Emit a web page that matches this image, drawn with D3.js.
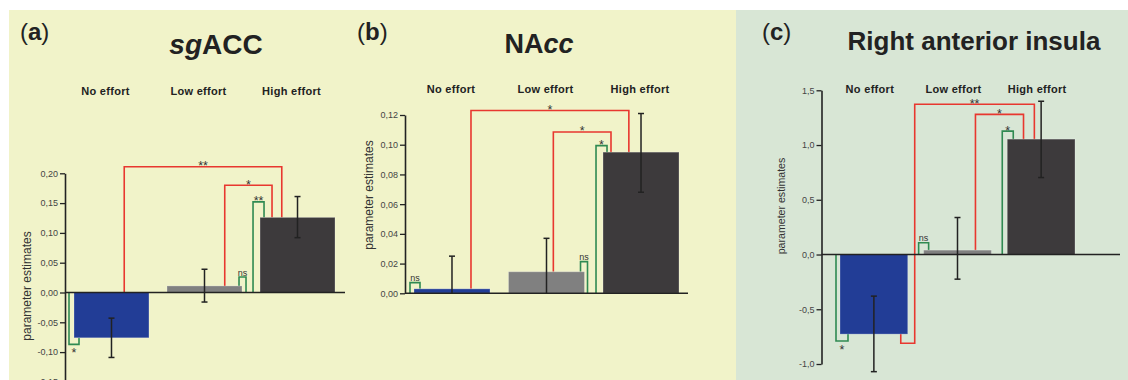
<!DOCTYPE html>
<html>
<head>
<meta charset="utf-8">
<script src="https://cdn.jsdelivr.net/npm/d3@7"></script>
<style>
  body { margin: 0; background: #fff; }
  svg { display: block; font-family: "Liberation Sans", Arial, sans-serif; }
</style>
</head>
<body>
<svg id="chart" width="1128" height="380"></svg>
<script>
const categories = ['No effort', 'Low effort', 'High effort'];
const barColors = ['#223d96', '#808080', '#3d3a3c'];

// sgACC
const sgaccMean = [-0.076, 0.011, 0.126];
const sgaccHi = [-0.043, 0.039, 0.161];
const sgaccLo = [-0.109, -0.016, 0.092];
const sgaccTicks = [-0.15, -0.10, -0.05, 0, 0.05, 0.10, 0.15, 0.20];
const sgaccVsZero = [{level: -0.087, label: '*'}, {level: 0.026, label: 'ns'}, {level: 0.152, label: '**'}];
const sgaccPairs = [{a: 0, b: 2, level: 0.211, label: '**'}, {a: 1, b: 2, level: 0.18, label: '*'}];

// NAcc (lower error bars cut at the zero line)
const naccMean = [0.003, 0.0145, 0.095];
const naccHi = [0.025, 0.037, 0.121];
const naccLo = [null, null, 0.068];
const naccTicks = [0, 0.02, 0.04, 0.06, 0.08, 0.10, 0.12];
const naccVsZero = [{level: 0.0072, label: 'ns'}, {level: 0.0213, label: 'ns'}, {level: 0.0994, label: '*'}];
const naccPairs = [{a: 0, b: 2, level: 0.123, label: '*'}, {a: 1, b: 2, level: 0.1086, label: '*'}];

// Right anterior insula
const insulaMean = [-0.727, 0.04, 1.054];
const insulaHi = [-0.38, 0.338, 1.40];
const insulaLo = [-1.07, -0.225, 0.703];
const insulaTicks = [-1.0, -0.5, 0, 0.5, 1.0, 1.5];
const insulaVsZero = [{level: -0.79, label: '*'}, {level: 0.107, label: 'ns'}, {level: 1.127, label: '*'}];
const insulaPairs = [{a: 0, b: 2, level: 1.373, label: '**', dip: -0.81}, {a: 1, b: 2, level: 1.28, label: '*'}];

const RED = '#e8372f', GREEN = '#2f8a52', INK = '#222';

const locale = d3.formatLocale({decimal: ',', thousands: '.', grouping: [3], currency: ['', ''], minus: '-'});

const svg = d3.select('#chart');

// panel backgrounds
svg.append('rect').attr('x', 9).attr('y', 10).attr('width', 727).attr('height', 370).attr('fill', '#f1f3c9');
svg.append('rect').attr('x', 736).attr('y', 10).attr('width', 392).attr('height', 370).attr('fill', '#d8e6d5');

const panels = [
  {
    letter: 'a', letterX: 20, title: [['sg', true], ['ACC', false]], titleX: 216, titleY: 54, titleSize: 28,
    mean: sgaccMean, hi: sgaccHi, lo: sgaccLo, ticks: sgaccTicks, vsZero: sgaccVsZero, pairs: sgaccPairs,
    domain: [-0.15, 0.20], yRange: [381.9, 173.3], axisX: 65, zeroEnd: 345,
    bars: [74, 335], pad: 0.194, catY: 95, catDx: -6, fmt: '.2f',
    yLabelX: 31, yLabelY: 286, yLabelSize: 12,
    zeroBr: [[-5, 5], [72, 79], [-7, 4]],
    pairFrac: [[0.67, 0.29], [0.77, 0.16]]
  },
  {
    letter: 'b', letterX: 357, title: [['NA', false], ['cc', true]], titleX: 539, titleY: 53, titleSize: 27,
    mean: naccMean, hi: naccHi, lo: naccLo, ticks: naccTicks, vsZero: naccVsZero, pairs: naccPairs,
    domain: [0, 0.12], yRange: [293.3, 115], axisX: 405, zeroEnd: 688,
    bars: [414, 679], pad: 0.196, catY: 92.5, catDx: -1, fmt: '.2f',
    yLabelX: 373, yLabelY: 195, yLabelSize: 12,
    zeroBr: [[-4, 6], [72, 79], [-7, 4]],
    pairFrac: [[0.75, 0.34], [0.59, 0.105]]
  },
  {
    letter: 'c', letterX: 762, title: [['Right anterior insula', false]], titleX: 974, titleY: 50, titleSize: 26,
    mean: insulaMean, hi: insulaHi, lo: insulaLo, ticks: insulaTicks, vsZero: insulaVsZero, pairs: insulaPairs,
    domain: [-1, 1.5], yRange: [364, 90.3], axisX: 821.5, zeroEnd: 1120,
    bars: [840, 1075], pad: 0.19, catY: 92.5, catDx: -4, fmt: '.1f',
    yLabelX: 785, yLabelY: 206, yLabelSize: 10.6,
    zeroBr: [[-4, 8], [-5, 5], [-5, 6]],
    pairFrac: [[1.103, 0.40, 0.897], [0.765, 0.24]]
  }
];

panels.forEach(p => {
  const g = svg.append('g');
  const x = d3.scaleBand().domain(categories).range(p.bars).paddingInner(p.pad).paddingOuter(0);
  const y = d3.scaleLinear().domain(p.domain).range(p.yRange);
  const bw = x.bandwidth();

  // panel letter
  const lt = g.append('text').attr('x', p.letterX).attr('y', 40).attr('font-size', 24).attr('fill', INK);
  lt.append('tspan').text('(');
  lt.append('tspan').attr('font-weight', 'bold').text(p.letter);
  lt.append('tspan').text(')');

  // title
  const tt = g.append('text').attr('x', p.titleX).attr('y', p.titleY).attr('text-anchor', 'middle')
    .attr('font-size', p.titleSize).attr('font-weight', 'bold').attr('fill', INK);
  p.title.forEach(([s, it]) => tt.append('tspan').attr('font-style', it ? 'italic' : 'normal').text(s));

  // category labels
  g.selectAll('.cat').data(categories).join('text')
    .attr('x', d => x(d) + bw / 2 + p.catDx).attr('y', p.catY)
    .attr('text-anchor', 'middle').attr('font-size', 11).attr('font-weight', 'bold')
    .attr('letter-spacing', 0.3).attr('fill', INK).text(d => d);

  // y label
  g.append('text')
    .attr('transform', `translate(${p.yLabelX},${p.yLabelY}) rotate(-90)`)
    .attr('text-anchor', 'middle').attr('font-size', p.yLabelSize).attr('fill', '#333')
    .text('parameter estimates');

  // green brackets: each bar against zero
  p.vsZero.forEach((s, i) => {
    const x0 = x(categories[i]);
    const [dl, dr] = p.zeroBr[i];
    const yl = dl < 0 ? y(0) : y(p.mean[i]);
    const yr = dr > bw ? y(0) : y(p.mean[i]);
    g.append('path')
      .attr('d', `M${x0 + dl},${yl}V${y(s.level)}H${x0 + dr}V${yr}`)
      .attr('fill', 'none').attr('stroke', GREEN).attr('stroke-width', 1.6);
    const below = s.level < 0;
    g.append('text').attr('x', x0 + (dl + dr) / 2)
      .attr('y', y(s.level) + (below ? 13 : (s.label === 'ns' ? -1.5 : 3.5)))
      .attr('text-anchor', 'middle').attr('font-size', s.label === 'ns' ? 9 : 12.5)
      .attr('fill', '#333').text(s.label);
  });

  // red brackets: pairwise comparisons
  p.pairs.forEach((s, k) => {
    const fr = p.pairFrac[k];
    const xa = x(categories[s.a]) + bw * fr[0];
    const xb = x(categories[s.b]) + bw * fr[1];
    let d;
    if (s.dip !== undefined) {
      const xh = x(categories[s.a]) + bw * fr[2];
      d = `M${xh},${y(p.mean[s.a])}V${y(s.dip)}H${xa}V${y(s.level)}H${xb}V${y(p.mean[s.b])}`;
    } else {
      d = `M${xa},${y(Math.max(0, p.mean[s.a]))}V${y(s.level)}H${xb}V${y(p.mean[s.b])}`;
    }
    g.append('path').attr('d', d).attr('fill', 'none').attr('stroke', RED).attr('stroke-width', 1.6);
    g.append('text').attr('x', (xa + xb) / 2).attr('y', y(s.level) + 3.5)
      .attr('text-anchor', 'middle').attr('font-size', 12.5).attr('fill', '#333').text(s.label);
  });

  // bars
  g.selectAll('.bar').data(p.mean).join('rect')
    .attr('x', (d, i) => x(categories[i])).attr('width', bw)
    .attr('y', d => y(Math.max(0, d))).attr('height', d => Math.abs(y(d) - y(0)))
    .attr('fill', (d, i) => barColors[i])
    .attr('stroke', 'rgba(255,255,255,0.25)').attr('stroke-width', 1);

  // axes
  const axis = d3.axisLeft(y).tickValues(p.ticks).tickSize(5).tickSizeOuter(0).tickPadding(2)
    .tickFormat(locale.format(p.fmt));
  const ag = g.append('g').attr('transform', `translate(${p.axisX},0)`).call(axis);
  ag.select('.domain').attr('stroke', INK).attr('stroke-width', 1.6);
  ag.selectAll('.tick line').attr('stroke', INK).attr('stroke-width', 1.3);
  ag.selectAll('.tick text').attr('font-size', 9).attr('fill', '#444')
    .attr('font-family', '"Liberation Sans", Arial, sans-serif');

  g.append('line').attr('x1', p.axisX).attr('x2', p.zeroEnd).attr('y1', y(0)).attr('y2', y(0))
    .attr('stroke', INK).attr('stroke-width', 1.6);

  // error bars
  p.mean.forEach((m, i) => {
    const cx = x(categories[i]) + bw / 2;
    const lo = p.lo[i] === null ? 0 : p.lo[i];
    g.append('line').attr('x1', cx).attr('x2', cx).attr('y1', y(p.hi[i])).attr('y2', y(lo))
      .attr('stroke', INK).attr('stroke-width', 1.5);
    const caps = p.lo[i] === null ? [p.hi[i]] : [p.hi[i], lo];
    caps.forEach(v => g.append('line').attr('x1', cx - 3).attr('x2', cx + 3).attr('y1', y(v)).attr('y2', y(v))
      .attr('stroke', INK).attr('stroke-width', 1.5));
  });
});
</script>
</body>
</html>
